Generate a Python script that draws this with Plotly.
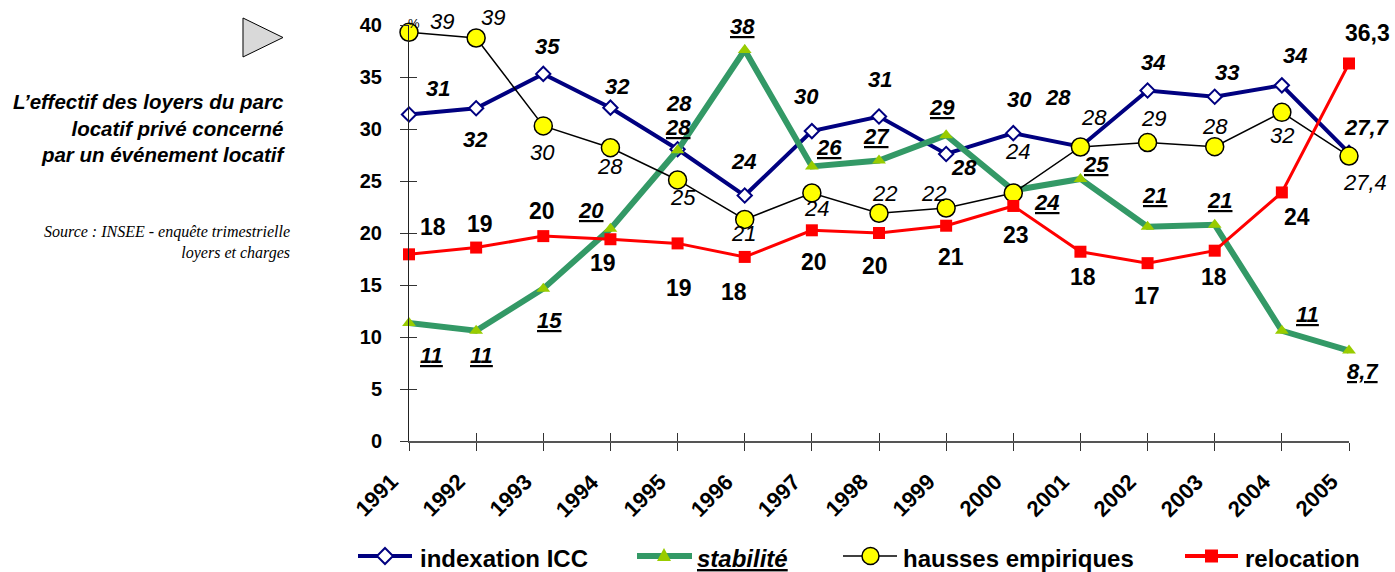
import plotly.graph_objects as go

# ---- data -------------------------------------------------------------
years = list(range(1991, 2006))
indexation_icc = [31.4, 32.0, 35.3, 32.05, 28.05, 23.6, 29.8, 31.2, 27.6, 29.6,
                  28.3, 33.7, 33.1, 34.2, 27.7]
stabilite = [11.35, 10.6, 14.65, 20.4, 27.95, 37.6, 26.4, 26.97, 29.4, 24.1,
             25.2, 20.6, 20.8, 10.6, 8.7]
hausses_empiriques = [39.3, 38.75, 30.3, 28.2, 25.1, 21.3, 23.85, 21.9, 22.4, 23.85,
                      28.27, 28.7, 28.3, 31.6, 27.4]
relocation = [17.95, 18.6, 19.7, 19.4, 19.0, 17.7, 20.26, 20.0, 20.7, 22.6,
              18.2, 17.1, 18.3, 23.9, 36.3]
y_ticks = [0, 5, 10, 15, 20, 25, 30, 35, 40]
year_labels = [str(y) for y in years]
series_names = ["indexation ICC", "stabilité", "hausses empiriques", "relocation"]

# ---- layout constants ---------------------------------------------------
W, H = 1395, 572
ML, MR, MT, MB = 409, 46, 25, 131
PW, PH = W - ML - MR, H - MT - MB
SANS = "Liberation Sans, Arial, sans-serif"
SERIF = "Liberation Serif, Times New Roman, serif"
NAVY, GREEN, LIME, RED = "#000080", "#339966", "#99cc00", "#ff0000"


def px(x):
    return (x - ML) / PW


def py(y):
    return (H - MB - y) / PH


def fmt(v, i):
    # the last year is printed with one decimal (French comma)
    if i == len(years) - 1:
        return f"{v:.1f}".replace(".", ",")
    return str(int(v + 0.5))


# pixel offsets (dx right, dy down) of each value label from its point
off_icc = [(29, -26), (-1, 31), (4, -27), (7, -21), (1, -46), (-1, -34), (-5, -35),
           (1, -37), (18, 14), (6, -34), (-22, -49), (5, -28), (12, -24), (13, -30), (18, -25)]
off_stab = [(22, 33), (5, 25), (6, 32), (-19, -18), (0, -23), (-2, -23), (17, -19),
            (-3, -24), (-4, -28), (33, 12), (16, -14), (7, -31), (5, -24), (26, -16), (14, 21)]
off_hau = [(33, -11), (17, -21), (-1, 27), (0, 19), (5, 18), (-1, 14), (5, 16),
           (5, -20), (-13, -15), (4, -41), (14, -29), (6, -24), (0, -20), (0, 23), (16, 26)]
off_rel = [(24, -27), (4, -24), (-1, -25), (-7, 24), (1, 45), (-11, 35), (2, 32),
           (-4, 33), (5, 31), (3, 29), (3, 25), (-1, 33), (-1, 26), (15, 25), (18, -30)]

fig = go.Figure()

fig.add_trace(go.Scatter(
    x=years, y=indexation_icc, mode="lines+markers", name=series_names[0],
    line=dict(color=NAVY, width=4),
    marker=dict(symbol="diamond", size=11, color="white", line=dict(color=NAVY, width=2)),
    cliponaxis=False, showlegend=False))
fig.add_trace(go.Scatter(
    x=years, y=stabilite, mode="lines+markers", name=series_names[1],
    line=dict(color=GREEN, width=6),
    marker=dict(symbol="triangle-up", size=12, color=LIME, line=dict(width=0)),
    cliponaxis=False, showlegend=False))
fig.add_trace(go.Scatter(
    x=years, y=hausses_empiriques, mode="lines+markers", name=series_names[2],
    line=dict(color="black", width=1.5),
    marker=dict(symbol="circle", size=18, color="#ffff00", line=dict(color="black", width=1.5)),
    cliponaxis=False, showlegend=False))
fig.add_trace(go.Scatter(
    x=years, y=relocation, mode="lines+markers", name=series_names[3],
    line=dict(color=RED, width=3),
    marker=dict(symbol="square", size=12, color=RED, line=dict(width=0)),
    cliponaxis=False, showlegend=False))
# carrier for the inner half of the crossing tick marks
fig.add_trace(go.Scatter(x=[], y=[], xaxis="x2", yaxis="y2", showlegend=False))

annotations = []


def add_labels(values, offsets, wrap, size):
    for i, (yr, v) in enumerate(zip(years, values)):
        dx, dy = offsets[i]
        annotations.append(dict(
            x=yr, y=v, xref="x", yref="y", text=wrap(fmt(v, i)), showarrow=False,
            xshift=dx, yshift=-dy, xanchor="center", yanchor="middle",
            font=dict(family=SANS, size=size, color="black")))


add_labels(indexation_icc, off_icc, lambda s: f"<b><i>{s}</i></b>", 22)
add_labels(stabilite, off_stab, lambda s: f"<b><i><u>{s}</u></i></b>", 22)
add_labels(hausses_empiriques, off_hau, lambda s: f"<i>{s}</i>", 22)
add_labels(relocation, off_rel, lambda s: f"<b>{s}</b>", 23)

# year labels, slanted, set below each tick
for yr, lab in zip(years, year_labels):
    annotations.append(dict(
        x=yr, y=0, xref="x", yref="y", text=f"<b>{lab}</b>", showarrow=False,
        textangle=-45, xshift=-33, yshift=-54, xanchor="center", yanchor="middle",
        font=dict(family=SANS, size=22, color="black")))

# unit marker above the value axis
annotations.append(dict(x=px(406), y=py(14), xref="paper", yref="paper", text="%",
                        showarrow=False, font=dict(family=SANS, size=13, color="black")))

# side caption
annotations.append(dict(
    x=px(288), y=py(128), xref="paper", yref="paper", xanchor="right", yanchor="middle",
    align="right", showarrow=False,
    text="<b><i>L’effectif des loyers du parc<br>locatif privé concerné<br>par un événement locatif</i></b>",
    font=dict(family=SANS, size=20.5, color="black")))
annotations.append(dict(
    x=px(292), y=py(242), xref="paper", yref="paper", xanchor="right", yanchor="middle",
    align="right", showarrow=False,
    text="<i>Source : INSEE - enquête trimestrielle<br>loyers et charges</i>",
    font=dict(family=SERIF, size=16, color="black")))

shapes = []


def pth(points):
    return "M" + " L".join(f"{px(a):.5f},{py(b):.5f}" for a, b in points) + " Z"


# decorative arrow next to the caption
shapes.append(dict(type="path", xref="paper", yref="paper",
                   path=pth([(243, 18), (283, 37.5), (243, 57)]),
                   fillcolor="#d9d9d9", line=dict(color="black", width=1)))

# legend drawn below the axis
LY = 556
legend_items = [
    # (line x0, x1, line colour, width, text x, text)
    (358, 412, NAVY, 4, 418, "<b>indexation ICC</b>"),
    (637, 692, GREEN, 6, 695, "<b><i><u>stabilité</u></i></b>"),
    (843, 897, "black", 1.5, 901, "<b>hausses empiriques</b>"),
    (1185, 1238, RED, 4, 1243, "<b>relocation</b>"),
]
for x0, x1, col, wd, tx, txt in legend_items:
    shapes.append(dict(type="line", xref="paper", yref="paper",
                       x0=px(x0), x1=px(x1), y0=py(LY), y1=py(LY),
                       line=dict(color=col, width=wd)))
    annotations.append(dict(x=px(tx), y=py(LY + 2), xref="paper", yref="paper",
                            xanchor="left", yanchor="middle", showarrow=False, text=txt,
                            font=dict(family=SANS, size=24, color="black")))

shapes.append(dict(type="path", xref="paper", yref="paper",
                   path=pth([(385, LY - 8), (393, LY), (385, LY + 8), (377, LY)]),
                   fillcolor="white", line=dict(color=NAVY, width=2)))
shapes.append(dict(type="path", xref="paper", yref="paper",
                   path=pth([(664, LY - 8), (671, LY + 5), (657, LY + 5)]),
                   fillcolor=LIME, line=dict(width=0)))
shapes.append(dict(type="circle", xref="paper", yref="paper",
                   x0=px(862), x1=px(879), y0=py(LY - 8.5), y1=py(LY + 8.5),
                   fillcolor="#ffff00", line=dict(color="black", width=1.5)))
shapes.append(dict(type="rect", xref="paper", yref="paper",
                   x0=px(1205), x1=px(1218), y0=py(LY - 6.5), y1=py(LY + 6.5),
                   fillcolor=RED, line=dict(width=0)))

fig.update_layout(
    width=W, height=H, autosize=False,
    margin=dict(l=ML, r=MR, t=MT, b=MB, pad=0),
    paper_bgcolor="white", plot_bgcolor="white",
    showlegend=False,
    annotations=annotations, shapes=shapes,
    xaxis=dict(range=[1991, 2005], tickmode="array", tickvals=years,
               showticklabels=False,
               ticks="outside", ticklen=8, tickcolor="#333", tickwidth=1.2,
               showline=True, linecolor="#555", linewidth=2, showgrid=False, zeroline=False),
    yaxis=dict(range=[0, 40], tickmode="array", tickvals=y_ticks,
               ticks="outside", ticklen=8, tickcolor="#333", tickwidth=1.2,
               ticklabelstandoff=14,
               showline=True, linecolor="#222", linewidth=1, showgrid=False, zeroline=False,
               tickfont=dict(family=SANS, size=20, color="black", weight="bold")),
    xaxis2=dict(overlaying="x", anchor="y2", range=[1991, 2005], tickmode="array",
                tickvals=years, ticks="inside", ticklen=8, tickcolor="#333", tickwidth=1.2,
                showticklabels=False, showgrid=False, zeroline=False, showline=False),
    yaxis2=dict(overlaying="y", anchor="x2", range=[0, 40], tickmode="array",
                tickvals=y_ticks, ticks="inside", ticklen=8, tickcolor="#333", tickwidth=1.2,
                showticklabels=False, showgrid=False, zeroline=False, showline=False),
)

fig.write_html("out.html")
